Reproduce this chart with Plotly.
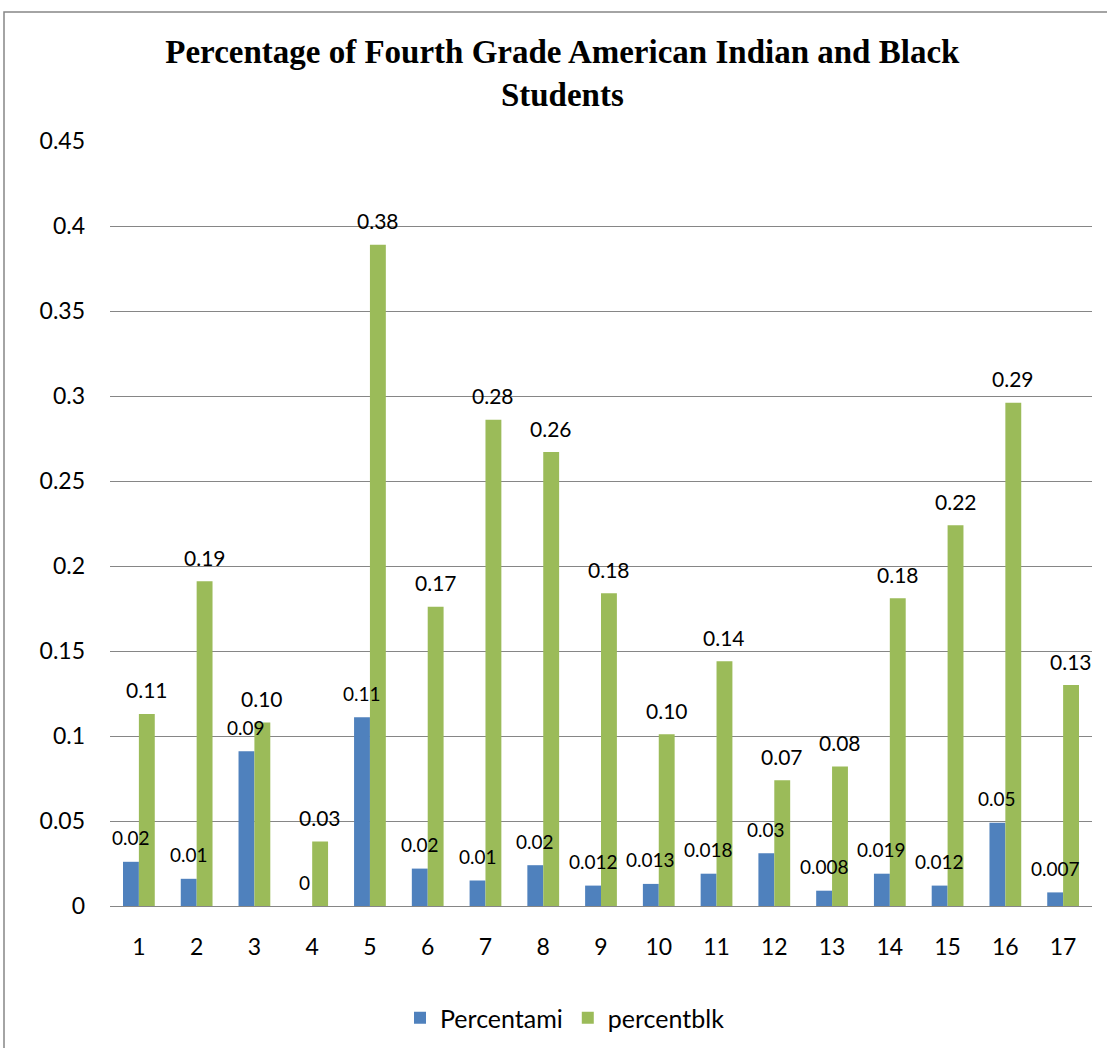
import plotly.graph_objects as go

categories = list(range(1, 18))
percentami = [0.026, 0.016, 0.091, 0.0, 0.111, 0.022, 0.015, 0.024, 0.012, 0.013,
              0.019, 0.031, 0.009, 0.019, 0.012, 0.049, 0.008]
percentblk = [0.113, 0.191, 0.108, 0.038, 0.389, 0.176, 0.286, 0.267, 0.184, 0.101,
              0.144, 0.074, 0.082, 0.181, 0.224, 0.296, 0.130]
ami_labels = ["0.02", "0.01", "0.09", "0", "0.11", "0.02", "0.01", "0.02", "0.012", "0.013",
              "0.018", "0.03", "0.008", "0.019", "0.012", "0.05", "0.007"]
blk_labels = ["0.11", "0.19", "0.10", "0.03", "0.38", "0.17", "0.28", "0.26", "0.18", "0.10",
              "0.14", "0.07", "0.08", "0.18", "0.22", "0.29", "0.13"]

BLUE = "#4F81BD"
GREEN = "#9BBB59"
FONT = "Lato"
BARGAP = 0.45
half = (1 - BARGAP) / 4  # center offset of each bar in a group of two

fig = go.Figure()
fig.add_trace(go.Bar(x=categories, y=percentami, name="Percentami", marker_color=BLUE,
                     marker_line_width=0))
fig.add_trace(go.Bar(x=categories, y=percentblk, name="percentblk", marker_color=GREEN,
                     marker_line_width=0))

annotations = []
for c, v, t in zip(categories, percentami, ami_labels):
    annotations.append(dict(x=c - half, y=v, text=t, showarrow=False, xref="x", yref="y",
                            yanchor="middle", yshift=24,
                            font=dict(family=FONT, size=19, color="#000000")))
for c, v, t in zip(categories, percentblk, blk_labels):
    annotations.append(dict(x=c + half, y=v, text=t, showarrow=False, xref="x", yref="y",
                            yanchor="middle", yshift=24,
                            font=dict(family=FONT, size=21, color="#000000")))

fig.update_layout(
    width=1107, height=1048,
    margin=dict(l=110, r=15, t=141, b=142, autoexpand=False),
    paper_bgcolor="white", plot_bgcolor="white",
    barmode="group", bargap=BARGAP, bargroupgap=0,
    title=dict(text="<b>Percentage of Fourth Grade American Indian and Black<br>Students</b>",
               x=0.508, xref="container", xanchor="center",
               y=1 - 63 / 1048, yref="container", yanchor="middle",
               font=dict(family="Liberation Serif", size=33, color="#000000")),
    font=dict(family=FONT, size=22, color="#000000"),
    xaxis=dict(tickmode="array", tickvals=categories, ticktext=[str(c) for c in categories],
               range=[0.5, 17.5], showgrid=False, showline=True, linecolor="#868686",
               linewidth=1, ticks="", ticklabelstandoff=20, automargin=False,
               tickfont=dict(family=FONT, size=23)),
    yaxis=dict(range=[0, 0.45], dtick=0.05, tick0=0, showgrid=True, gridcolor="#868686",
               gridwidth=1, zeroline=False, showline=False, ticks="", automargin=False,
               ticklabelstandoff=24, tickfont=dict(family=FONT, size=23)),
    legend=dict(orientation="h", x=(400 - 110) / 982, xanchor="left",
                y=(906 - 1018) / 765, yanchor="middle",
                font=dict(family=FONT, size=25), traceorder="normal",
                itemwidth=30),
    annotations=annotations,
    shapes=[dict(type="rect", xref="paper", yref="paper",
                 x0=(4 - 110) / 982, x1=(1112 - 110) / 982,
                 y0=(906 - 1060) / 765, y1=(906 - 12) / 765,
                 line=dict(color="#868686", width=1.5), fillcolor="rgba(0,0,0,0)",
                 layer="below")],
    showlegend=True,
)

fig.write_html("out.html")
